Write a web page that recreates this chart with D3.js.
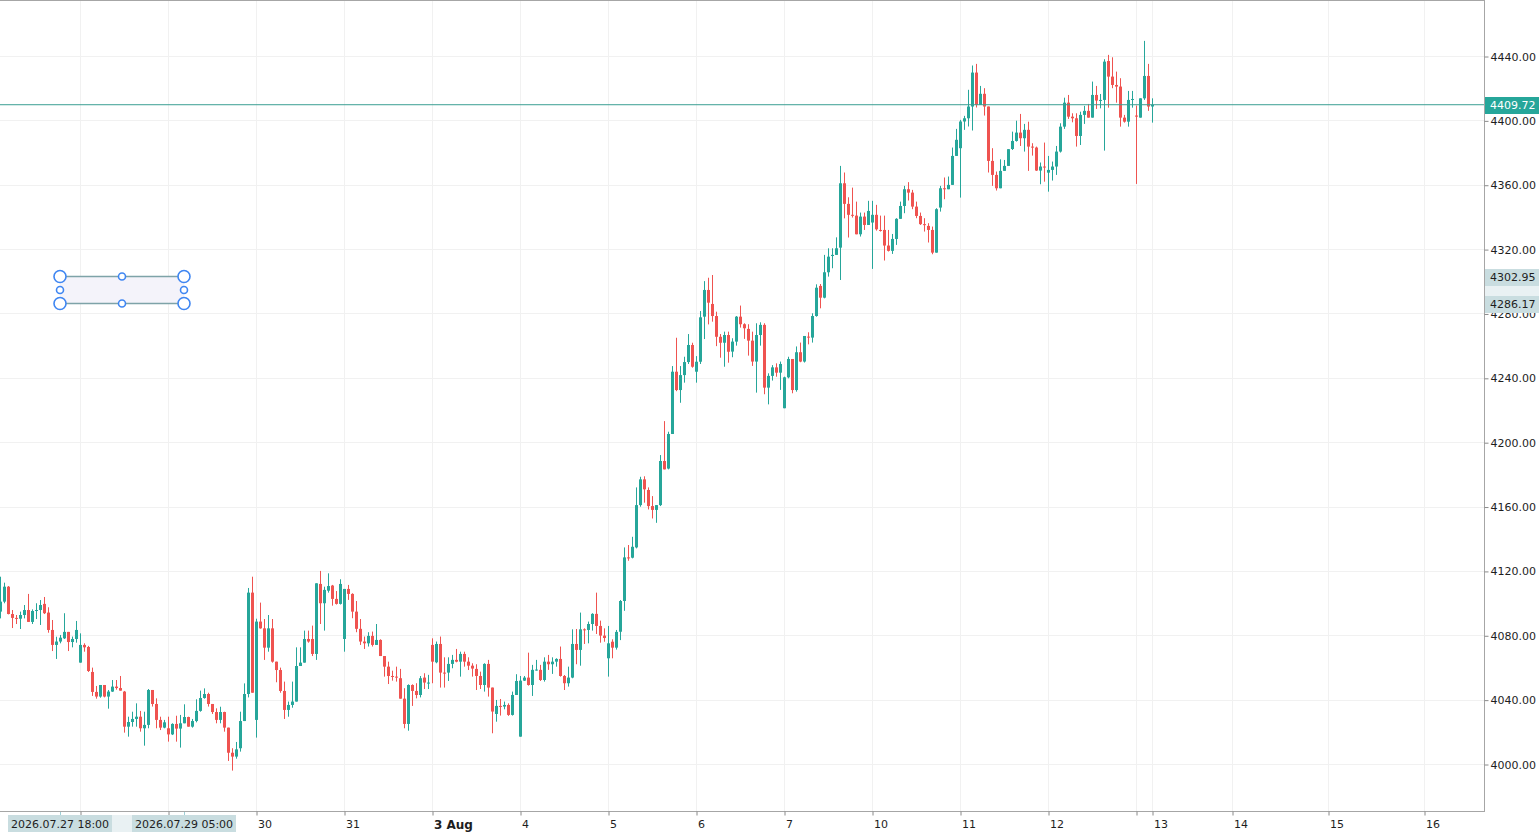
<!DOCTYPE html>
<html>
<head>
<meta charset="utf-8">
<script src="https://cdn.jsdelivr.net/npm/d3@7"></script>
<style>
    body { margin: 0; background: #ffffff; }
    svg { display: block; font-family: "DejaVu Sans", sans-serif; }
</style>
</head>
<body>
<div id="candle-chart"></div>
<script>
// hourly candles, index 0 is the first bar on the left
const candleOpen = [
    4094.7, 4100.9, 4110.2, 4093.2, 4090.8, 4090.3, 4092.6, 4095.7, 4088.3, 4095.1,
    4095.7, 4099.5, 4094.1, 4083.3, 4074.0, 4076.1, 4078.1, 4082.1, 4075.8, 4077.7,
    4063.0, 4074.0, 4072.7, 4057.2, 4044.8, 4041.9, 4049.1, 4041.9, 4045.0, 4048.1,
    4047.2, 4045.0, 4023.2, 4026.1, 4028.0, 4029.4, 4022.2, 4024.3, 4046.0, 4037.3,
    4027.4, 4022.6, 4022.2, 4018.4, 4024.9, 4022.0, 4025.3, 4029.2, 4023.2, 4026.7,
    4033.0, 4041.0, 4043.5, 4037.3, 4032.3, 4027.4, 4032.3, 4022.6, 4007.0, 4004.6,
    4009.8, 4026.7, 4043.5, 4106.5, 4027.4, 4088.5, 4084.3, 4072.3, 4084.3, 4063.6,
    4058.4, 4045.4, 4033.6, 4036.7, 4038.8, 4060.9, 4063.0, 4077.7, 4077.7, 4068.4,
    4111.9, 4099.9, 4107.7, 4110.9, 4102.6, 4099.5, 4077.7, 4108.8, 4105.7, 4094.7,
    4084.0, 4076.1, 4075.0, 4079.6, 4074.0, 4077.1, 4067.1, 4060.5, 4054.7, 4054.3,
    4053.3, 4040.6, 4024.9, 4049.1, 4045.4, 4042.9, 4053.7, 4050.2, 4074.0, 4063.2,
    4074.6, 4056.8, 4056.8, 4062.2, 4064.7, 4063.6, 4068.4, 4063.6, 4061.1, 4059.1,
    4054.7, 4049.1, 4062.2, 4047.5, 4031.1, 4036.1, 4035.7, 4036.7, 4030.5, 4042.9,
    4017.0, 4051.8, 4053.7, 4049.1, 4058.5, 4058.5, 4052.2, 4063.6, 4062.0, 4063.6,
    4065.3, 4054.7, 4050.2, 4053.7, 4074.6, 4070.9, 4083.7, 4083.3, 4087.0, 4093.3,
    4085.8, 4079.8, 4065.7, 4076.0, 4072.3, 4082.2, 4101.3, 4128.4, 4128.2, 4134.6,
    4160.9, 4176.9, 4170.3, 4160.3, 4157.9, 4160.9, 4188.3, 4183.6, 4205.1, 4243.8,
    4232.4, 4241.7, 4249.8, 4260.4, 4243.8, 4250.0, 4278.0, 4294.6, 4285.9, 4278.4,
    4265.5, 4261.8, 4266.6, 4256.3, 4262.5, 4278.0, 4273.3, 4270.4, 4263.1, 4250.1,
    4266.6, 4272.9, 4233.9, 4241.2, 4246.5, 4243.2, 4221.1, 4240.3, 4251.7, 4232.4,
    4255.9, 4250.1, 4265.6, 4265.0, 4278.4, 4297.1, 4289.8, 4305.6, 4315.7, 4316.4,
    4320.9, 4360.9, 4348.1, 4341.3, 4340.8, 4329.2, 4340.2, 4335.0, 4336.5, 4341.3,
    4331.9, 4331.9, 4322.2, 4318.9, 4326.3, 4338.8, 4346.8, 4357.2, 4355.1, 4346.4,
    4340.6, 4335.5, 4334.4, 4331.9, 4317.8, 4345.8, 4357.8, 4357.2, 4359.9, 4377.9,
    4382.7, 4399.3, 4401.3, 4408.6, 4429.7, 4409.6, 4416.5, 4408.6, 4374.8, 4366.1,
    4357.8, 4368.6, 4371.7, 4382.2, 4387.2, 4392.4, 4388.9, 4394.1, 4383.7, 4383.1,
    4368.8, 4371.3, 4367.5, 4369.2, 4371.3, 4380.6, 4396.1, 4411.0, 4402.3, 4401.3,
    4390.3, 4403.4, 4405.9, 4401.7, 4415.8, 4412.3, 4412.7, 4436.9, 4427.2, 4422.0,
    4421.0, 4401.7, 4399.2, 4412.7, 4403.0, 4401.7, 4413.7, 4427.6, 4408.6
];
const candleHigh = [
    4116.4, 4112.7, 4110.6, 4095.7, 4092.6, 4094.7, 4098.8, 4105.7, 4096.1, 4099.9,
    4101.9, 4103.8, 4097.4, 4089.5, 4079.1, 4080.2, 4093.7, 4082.1, 4079.2, 4088.9,
    4081.2, 4075.0, 4073.4, 4059.9, 4048.5, 4049.1, 4049.1, 4046.0, 4052.2, 4052.2,
    4054.7, 4045.4, 4029.4, 4032.5, 4037.7, 4033.0, 4032.5, 4046.6, 4046.0, 4040.8,
    4029.4, 4027.4, 4029.4, 4025.3, 4030.0, 4030.5, 4037.1, 4029.4, 4028.0, 4040.2,
    4045.6, 4047.0, 4044.3, 4037.3, 4034.6, 4035.6, 4032.5, 4022.6, 4009.8, 4013.7,
    4032.5, 4050.1, 4109.4, 4116.4, 4090.3, 4100.3, 4090.1, 4092.6, 4090.1, 4063.6,
    4059.9, 4051.2, 4038.8, 4051.2, 4072.5, 4072.5, 4082.9, 4082.9, 4086.0, 4112.3,
    4120.0, 4110.2, 4118.5, 4111.3, 4107.5, 4114.8, 4108.8, 4111.3, 4106.1, 4101.3,
    4090.1, 4079.2, 4081.9, 4082.3, 4087.0, 4077.5, 4067.1, 4063.6, 4058.0, 4060.5,
    4059.1, 4047.1, 4049.5, 4049.5, 4050.2, 4054.7, 4056.4, 4055.4, 4078.1, 4076.1,
    4079.2, 4066.3, 4066.3, 4067.8, 4071.5, 4069.8, 4069.8, 4066.3, 4062.6, 4062.0,
    4057.4, 4062.6, 4064.7, 4047.5, 4039.8, 4040.4, 4038.8, 4037.7, 4045.0, 4055.8,
    4054.7, 4054.7, 4069.2, 4061.6, 4064.7, 4061.6, 4066.3, 4067.8, 4066.3, 4065.7,
    4073.0, 4055.3, 4060.5, 4083.7, 4083.9, 4094.1, 4084.3, 4088.5, 4093.7, 4106.5,
    4089.1, 4084.3, 4085.8, 4077.5, 4083.3, 4101.9, 4134.6, 4136.1, 4141.2, 4171.9,
    4178.5, 4178.8, 4171.9, 4166.5, 4160.9, 4192.0, 4213.1, 4206.5, 4247.3, 4264.9,
    4247.3, 4253.1, 4267.2, 4261.8, 4253.5, 4281.5, 4300.1, 4302.2, 4303.9, 4281.1,
    4267.2, 4268.7, 4268.7, 4264.6, 4278.4, 4284.9, 4273.9, 4273.3, 4268.7, 4273.9,
    4274.5, 4273.9, 4242.8, 4247.9, 4249.0, 4250.1, 4240.7, 4253.1, 4251.7, 4259.5,
    4261.9, 4266.0, 4268.3, 4280.1, 4298.1, 4298.3, 4316.4, 4320.5, 4320.5, 4327.3,
    4371.7, 4367.6, 4352.2, 4358.2, 4349.5, 4342.7, 4342.7, 4350.0, 4350.0, 4347.5,
    4340.8, 4340.8, 4331.9, 4329.4, 4339.2, 4349.5, 4359.3, 4361.6, 4356.8, 4349.5,
    4342.7, 4339.2, 4336.1, 4334.0, 4345.4, 4359.3, 4364.5, 4365.1, 4383.1, 4394.7,
    4400.3, 4402.8, 4419.0, 4434.1, 4435.1, 4421.4, 4420.0, 4408.6, 4382.7, 4368.2,
    4375.8, 4375.4, 4382.1, 4393.0, 4399.8, 4404.0, 4397.8, 4399.2, 4385.8, 4383.7,
    4373.8, 4386.2, 4377.9, 4374.4, 4384.1, 4398.2, 4414.1, 4415.8, 4404.4, 4404.4,
    4405.4, 4409.0, 4410.2, 4424.1, 4421.4, 4416.4, 4438.0, 4440.7, 4439.2, 4430.3,
    4426.2, 4403.4, 4418.3, 4418.3, 4409.2, 4413.7, 4449.4, 4435.1, 4413.7
];
const candleLow = [
    4090.5, 4099.9, 4093.0, 4084.5, 4087.0, 4083.9, 4090.5, 4088.3, 4087.0, 4090.1,
    4086.4, 4093.2, 4081.6, 4070.2, 4065.3, 4075.0, 4077.7, 4070.2, 4072.5, 4075.4,
    4063.0, 4069.8, 4057.2, 4042.3, 4040.6, 4041.2, 4041.4, 4034.4, 4044.8, 4046.2,
    4045.6, 4019.5, 4017.0, 4023.2, 4023.2, 4020.1, 4011.4, 4022.2, 4035.7, 4022.2,
    4021.1, 4022.2, 4013.9, 4018.0, 4013.9, 4010.2, 4025.3, 4023.2, 4022.6, 4025.9,
    4032.5, 4040.6, 4035.7, 4031.1, 4025.3, 4025.3, 4020.1, 4001.9, 3995.9, 4003.3,
    4007.7, 4026.7, 4041.4, 4044.3, 4016.4, 4084.1, 4064.7, 4069.8, 4063.0, 4050.8,
    4044.3, 4028.0, 4029.4, 4035.0, 4038.8, 4060.9, 4063.0, 4075.4, 4067.1, 4064.7,
    4087.0, 4082.9, 4106.5, 4098.4, 4099.1, 4099.1, 4069.8, 4102.0, 4090.6, 4081.9,
    4074.0, 4071.5, 4073.0, 4073.0, 4074.0, 4067.1, 4054.3, 4049.7, 4051.8, 4051.2,
    4040.6, 4022.2, 4020.7, 4036.1, 4040.8, 4041.4, 4046.6, 4046.6, 4050.2, 4062.6,
    4047.5, 4047.5, 4051.6, 4059.5, 4063.2, 4054.3, 4060.5, 4058.4, 4054.3, 4046.0,
    4046.6, 4045.0, 4041.9, 4019.1, 4026.3, 4030.1, 4034.0, 4029.9, 4030.1, 4042.9,
    4017.0, 4051.6, 4048.7, 4042.3, 4058.0, 4051.6, 4051.2, 4058.5, 4056.0, 4060.5,
    4054.3, 4046.0, 4048.1, 4053.3, 4062.0, 4061.1, 4074.6, 4075.0, 4082.9, 4080.8,
    4075.4, 4076.0, 4054.3, 4065.7, 4071.1, 4077.0, 4095.2, 4126.3, 4127.8, 4134.0,
    4159.9, 4162.4, 4158.2, 4152.6, 4149.9, 4160.3, 4183.1, 4183.1, 4205.1, 4231.7,
    4224.5, 4237.0, 4248.6, 4246.3, 4237.0, 4248.6, 4264.1, 4273.2, 4274.9, 4259.7,
    4252.5, 4246.9, 4249.4, 4252.8, 4260.0, 4271.2, 4264.2, 4253.8, 4247.4, 4230.8,
    4260.0, 4229.8, 4223.5, 4238.3, 4240.7, 4232.5, 4221.1, 4239.7, 4230.4, 4231.4,
    4249.7, 4249.5, 4260.8, 4261.9, 4278.0, 4283.2, 4289.4, 4302.9, 4308.1, 4316.4,
    4300.8, 4339.1, 4327.2, 4339.6, 4329.2, 4327.8, 4331.9, 4335.0, 4307.7, 4331.5,
    4330.9, 4312.9, 4318.5, 4317.0, 4322.6, 4338.8, 4342.3, 4350.2, 4344.8, 4339.2,
    4335.0, 4330.9, 4324.1, 4316.8, 4317.8, 4343.3, 4351.0, 4357.2, 4359.9, 4377.9,
    4352.0, 4394.1, 4396.2, 4393.7, 4408.0, 4409.6, 4403.0, 4367.6, 4359.3, 4356.4,
    4357.8, 4368.6, 4371.7, 4381.6, 4386.8, 4384.1, 4380.6, 4368.6, 4378.1, 4368.6,
    4360.3, 4361.9, 4355.7, 4362.6, 4366.1, 4380.0, 4394.7, 4400.9, 4398.8, 4383.7,
    4384.7, 4397.8, 4401.7, 4401.7, 4407.1, 4407.5, 4381.2, 4407.9, 4420.0, 4411.0,
    4396.1, 4398.6, 4396.1, 4407.9, 4360.5, 4401.7, 4412.7, 4405.9, 4398.6
];
const candleClose = [
    4100.9, 4110.2, 4093.2, 4090.8, 4090.5, 4092.6, 4095.7, 4088.3, 4095.1, 4095.7,
    4098.8, 4093.7, 4083.3, 4074.0, 4076.1, 4078.5, 4082.1, 4075.8, 4077.7, 4083.3,
    4074.0, 4072.5, 4057.8, 4044.8, 4041.9, 4049.1, 4041.9, 4045.0, 4048.1, 4047.2,
    4045.6, 4023.2, 4026.1, 4028.0, 4029.4, 4022.2, 4024.3, 4046.0, 4037.3, 4027.4,
    4022.6, 4025.9, 4018.4, 4024.9, 4022.0, 4025.3, 4029.2, 4023.2, 4026.7, 4033.0,
    4041.0, 4043.5, 4037.3, 4032.3, 4027.4, 4032.3, 4022.6, 4007.0, 4004.6, 4009.1,
    4026.7, 4043.5, 4106.5, 4044.3, 4088.5, 4084.3, 4072.3, 4084.3, 4063.6, 4058.4,
    4045.4, 4033.6, 4036.7, 4038.8, 4060.9, 4063.0, 4077.7, 4076.1, 4068.4, 4112.3,
    4099.9, 4108.2, 4110.6, 4102.6, 4099.5, 4111.9, 4108.8, 4105.7, 4094.7, 4084.0,
    4076.1, 4075.0, 4079.6, 4074.0, 4077.1, 4067.1, 4060.5, 4054.7, 4054.3, 4053.9,
    4040.6, 4024.9, 4049.1, 4045.4, 4042.9, 4053.3, 4050.6, 4050.6, 4063.6, 4074.6,
    4056.8, 4056.2, 4062.2, 4064.7, 4063.6, 4068.4, 4063.6, 4061.1, 4059.3, 4054.7,
    4049.1, 4062.2, 4047.5, 4032.6, 4036.1, 4035.7, 4036.7, 4030.5, 4042.9, 4051.6,
    4051.8, 4053.7, 4049.1, 4058.5, 4058.7, 4052.2, 4063.6, 4062.0, 4063.6, 4065.3,
    4054.7, 4050.2, 4053.7, 4074.6, 4070.9, 4083.7, 4083.3, 4087.0, 4093.3, 4085.8,
    4079.8, 4078.3, 4075.0, 4072.3, 4082.1, 4101.3, 4128.4, 4127.8, 4135.0, 4160.9,
    4176.9, 4170.7, 4160.3, 4157.9, 4160.9, 4188.3, 4183.1, 4205.1, 4243.8, 4232.4,
    4241.7, 4249.8, 4260.4, 4246.9, 4250.0, 4277.6, 4294.6, 4286.7, 4278.4, 4265.5,
    4261.8, 4266.6, 4256.2, 4262.5, 4278.0, 4273.3, 4270.8, 4263.1, 4250.1, 4266.6,
    4272.9, 4233.9, 4241.2, 4246.5, 4243.2, 4248.6, 4240.3, 4251.7, 4232.4, 4255.9,
    4250.1, 4266.0, 4265.0, 4278.4, 4296.0, 4289.8, 4305.6, 4315.3, 4316.4, 4320.5,
    4360.9, 4348.1, 4341.3, 4340.8, 4329.2, 4340.2, 4335.0, 4343.7, 4341.3, 4332.3,
    4331.3, 4322.2, 4318.9, 4326.3, 4338.8, 4346.8, 4357.2, 4355.1, 4346.4, 4340.6,
    4335.5, 4335.0, 4331.9, 4317.8, 4344.8, 4357.8, 4357.2, 4359.9, 4377.9, 4387.9,
    4399.3, 4401.3, 4408.6, 4429.7, 4409.6, 4416.5, 4408.6, 4374.8, 4366.1, 4357.8,
    4368.6, 4371.7, 4382.1, 4387.2, 4392.4, 4388.9, 4394.1, 4383.7, 4383.1, 4368.8,
    4371.3, 4370.8, 4369.2, 4371.3, 4380.6, 4396.1, 4411.0, 4402.3, 4401.3, 4390.3,
    4403.4, 4405.9, 4401.7, 4415.8, 4412.3, 4412.7, 4436.5, 4427.2, 4422.0, 4421.0,
    4401.7, 4399.2, 4412.7, 4413.3, 4402.3, 4413.7, 4427.6, 4408.6, 4409.72
];

// day separators on the time axis (bar index where each day starts)
const dayTickIndex = [20, 42, 64, 86, 108, 130, 152, 174, 196, 218, 240, 262, 284, 288, 308, 332, 356];
const dayLabels = ["", "", "30", "31", "3 Aug", "4", "5", "6", "7", "10", "11", "12", "", "13", "14", "15", "16"];
const priceTicks = [4000, 4040, 4080, 4120, 4160, 4200, 4240, 4280, 4320, 4360, 4400, 4440];

// drawn rectangle and the current price line
const boxStartIndex = 15;
const boxEndIndex = 46;
const boxTop = 4302.95;
const boxBottom = 4286.17;
const boxTimeLabels = ["2026.07.27 18:00", "2026.07.29 05:00"];
const lastPrice = 4409.72;

const candleChart = () => {
    const width = 1540;
    const height = 835;
    const plotRight = 1484;
    const plotBottom = 812;

    const up = "#26a69a";
    const down = "#ef5350";
    const tagFill = "#c9dde0";
    const tagBand = "#e9f1f3";

    const svg = d3.select("#candle-chart")
        .append("svg")
        .attr("width", width)
        .attr("height", height);

    const candles = candleOpen.map((o, i) => ({
        i: i,
        open: o,
        high: candleHigh[i],
        low: candleLow[i],
        close: candleClose[i]
    }));

    const x = d3.scaleLinear()
        .domain([0, 371])
        .range([0, plotRight]);

    const y = d3.scaleLinear()
        .domain([4000, 4440])
        .range([764, 56]);

    // grid
    svg.append("g")
        .selectAll("line")
        .data(priceTicks)
        .join("line")
        .attr("x1", 0)
        .attr("x2", plotRight)
        .attr("y1", d => Math.round(y(d)) + 0.5)
        .attr("y2", d => Math.round(y(d)) + 0.5)
        .attr("stroke", "#f1f1f1");

    svg.append("g")
        .selectAll("line")
        .data(dayTickIndex)
        .join("line")
        .attr("x1", d => Math.round(x(d)) + 0.5)
        .attr("x2", d => Math.round(x(d)) + 0.5)
        .attr("y1", 0)
        .attr("y2", plotBottom)
        .attr("stroke", "#f1f1f1");

    // frame
    svg.append("line")
        .attr("x1", 0).attr("x2", plotRight + 0.5)
        .attr("y1", 0.5).attr("y2", 0.5)
        .attr("stroke", "#a6a6a6");
    svg.append("line")
        .attr("x1", plotRight + 0.5).attr("x2", plotRight + 0.5)
        .attr("y1", 0).attr("y2", plotBottom)
        .attr("stroke", "#a6a6a6");
    svg.append("line")
        .attr("x1", 0).attr("x2", plotRight + 0.5)
        .attr("y1", plotBottom - 0.5).attr("y2", plotBottom - 0.5)
        .attr("stroke", "#a6a6a6");

    // price axis
    const yAxis = svg.append("g")
        .attr("transform", `translate(${plotRight + 0.5}, 0.5)`)
        .call(d3.axisRight(y).tickValues(priceTicks).tickFormat(d3.format(".2f")).tickSize(4).tickPadding(2));
    yAxis.select(".domain").remove();
    yAxis.selectAll("line").attr("stroke", "#8a8a8a");
    yAxis.selectAll("text")
        .style("font-family", "DejaVu Sans, sans-serif")
        .style("font-size", "11px")
        .attr("fill", "#1e1e1e");

    // time axis
    const xAxis = svg.append("g")
        .attr("transform", `translate(0.5, ${plotBottom - 0.5})`)
        .call(d3.axisBottom(x).tickValues(dayTickIndex).tickFormat((d, k) => dayLabels[k]).tickSize(4).tickPadding(5));
    xAxis.select(".domain").remove();
    xAxis.selectAll("line").attr("stroke", "#8a8a8a");
    xAxis.selectAll("text")
        .style("text-anchor", "start")
        .style("font-family", "DejaVu Sans, sans-serif")
        .style("font-size", d => d === 108 ? "12px" : "11px")
        .style("font-weight", d => d === 108 ? "bold" : "normal")
        .attr("dx", "1")
        .attr("fill", "#1e1e1e");

    // candles
    const candle = svg.append("g")
        .selectAll("g")
        .data(candles)
        .join("g")
        .attr("fill", d => d.close >= d.open ? up : down);

    candle.append("rect")
        .attr("x", d => Math.round(x(d.i)))
        .attr("width", 1)
        .attr("y", d => y(d.high))
        .attr("height", d => Math.max(1, y(d.low) - y(d.high)));

    candle.append("rect")
        .attr("x", d => Math.round(x(d.i)) - 1)
        .attr("width", 3)
        .attr("y", d => y(Math.max(d.open, d.close)))
        .attr("height", d => Math.max(1, Math.abs(y(d.open) - y(d.close))));

    // current price line
    svg.append("line")
        .attr("x1", 0)
        .attr("x2", plotRight)
        .attr("y1", y(lastPrice))
        .attr("y2", y(lastPrice))
        .attr("stroke", "#3a9e93")
        .attr("stroke-width", 1);

    // rectangle drawing with its handles
    const bx0 = x(boxStartIndex), bx1 = x(boxEndIndex);
    const by0 = y(boxTop), by1 = y(boxBottom);

    svg.append("rect")
        .attr("x", bx0)
        .attr("y", by0)
        .attr("width", bx1 - bx0)
        .attr("height", by1 - by0)
        .attr("fill", "#f4f3fa");

    svg.selectAll(".box-edge")
        .data([by0, by1])
        .join("line")
        .attr("class", "box-edge")
        .attr("x1", bx0).attr("x2", bx1)
        .attr("y1", d => d).attr("y2", d => d)
        .attr("stroke", "#7ea3a8")
        .attr("stroke-width", 1.5);

    const handles = [
        { cx: bx0, cy: by0, r: 6 }, { cx: bx1, cy: by0, r: 6 },
        { cx: bx0, cy: by1, r: 6 }, { cx: bx1, cy: by1, r: 6 },
        { cx: (bx0 + bx1) / 2, cy: by0, r: 3.5 }, { cx: (bx0 + bx1) / 2, cy: by1, r: 3.5 },
        { cx: bx0, cy: (by0 + by1) / 2, r: 3.5 }, { cx: bx1, cy: (by0 + by1) / 2, r: 3.5 }
    ];
    svg.selectAll(".handle")
        .data(handles)
        .join("circle")
        .attr("class", "handle")
        .attr("cx", d => d.cx)
        .attr("cy", d => d.cy)
        .attr("r", d => d.r)
        .attr("fill", "#ffffff")
        .attr("stroke", "#3f86f2")
        .attr("stroke-width", 1.6);

    // tags on the price axis
    const tagX = plotRight + 1;
    const tagW = 54;
    svg.append("rect")
        .attr("x", tagX).attr("width", tagW)
        .attr("y", by0).attr("height", by1 - by0)
        .attr("fill", tagBand);

    const priceTags = [
        { v: boxTop, fill: tagFill, color: "#1e1e1e" },
        { v: boxBottom, fill: tagFill, color: "#1e1e1e" },
        { v: lastPrice, fill: up, color: "#ffffff" }
    ];
    const tag = svg.selectAll(".price-tag")
        .data(priceTags)
        .join("g")
        .attr("class", "price-tag")
        .attr("transform", d => `translate(${tagX}, ${Math.round(y(d.v))})`);
    tag.append("rect")
        .attr("y", -8).attr("height", 17)
        .attr("width", tagW)
        .attr("fill", d => d.fill);
    tag.append("text")
        .attr("x", 5)
        .attr("dy", "0.35em")
        .style("font-size", "11px")
        .attr("fill", d => d.color)
        .text(d => d.v.toFixed(2));

    // tags on the time axis
    svg.append("rect")
        .attr("x", bx0).attr("width", bx1 - bx0)
        .attr("y", plotBottom + 3).attr("height", 17)
        .attr("fill", tagBand);

    svg.selectAll(".box-tick")
        .data([bx0, bx1])
        .join("line")
        .attr("class", "box-tick")
        .attr("x1", d => d + 0.5).attr("x2", d => d + 0.5)
        .attr("y1", plotBottom).attr("y2", plotBottom + 3)
        .attr("stroke", "#9fcfd6");

    const timeTag = svg.selectAll(".time-tag")
        .data([bx0, bx1])
        .join("g")
        .attr("class", "time-tag")
        .attr("transform", d => `translate(${d}, ${plotBottom + 3})`);
    timeTag.append("rect")
        .attr("x", -52).attr("width", 104)
        .attr("height", 17)
        .attr("fill", tagFill);
    timeTag.append("text")
        .attr("y", 12.5)
        .attr("text-anchor", "middle")
        .style("font-size", "11px")
        .attr("fill", "#1e1e1e")
        .text((d, k) => boxTimeLabels[k]);
};

candleChart();
</script>
</body>
</html>
